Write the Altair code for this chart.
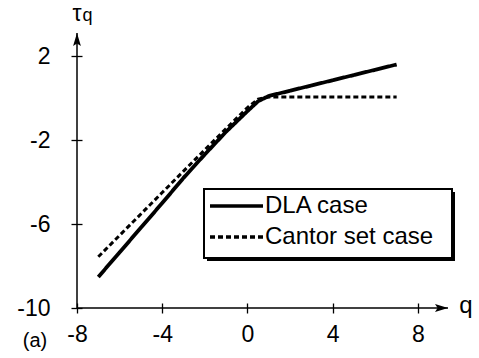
import altair as alt
import pandas as pd

# ---- data ----
q_values = [-7, -6, -5, -4, -3, -2, -1, 0, 0.5, 1, 2, 3, 4, 5, 6, 7]
dla_tau = [-8.52, -7.35, -6.17, -5.0, -3.8, -2.68, -1.6, -0.62, -0.15, 0.1, 0.35, 0.6, 0.85, 1.1, 1.35, 1.6]
cantor_tau = [-7.56, -6.54, -5.52, -4.5, -3.48, -2.46, -1.45, -0.45, -0.05, 0.05, 0.05, 0.05, 0.05, 0.05, 0.05, 0.05]
series_names = ["DLA case", "Cantor set case"]
series_dash = [[1, 0], [5, 3]]
x_ticks = [-8, -4, 0, 4, 8]
y_ticks = [-10, -6, -2, 2]
x_range = [-8, 9.41]
y_range = [-10, 3.1]

FONT = "Liberation Sans"

df = pd.DataFrame({
    "q": q_values + q_values,
    "tau": dla_tau + cantor_tau,
    "series": [series_names[0]] * len(q_values) + [series_names[1]] * len(q_values),
})

xscale = alt.Scale(domain=x_range, nice=False, zero=False)
yscale = alt.Scale(domain=y_range, nice=False, zero=False)

minus_expr = "(datum.value < 0 ? '-' : '') + abs(datum.value)"

x_axis = alt.Axis(values=x_ticks, offset=-5, tickSize=10, tickWidth=1.3, tickColor="black",
                  domain=False, grid=False, labelPadding=10, labelFontSize=23, labelFont=FONT,
                  labelColor="black", labelFlush=False, labelOverlap=False, labelExpr=minus_expr,
                  title=None)
y_axis = alt.Axis(values=y_ticks, offset=-5, tickSize=11, tickWidth=1.3, tickColor="black",
                  domain=False, grid=False, labelPadding=21, labelFontSize=23, labelFont=FONT,
                  labelColor="black", labelFlush=False, labelOverlap=False, labelExpr=minus_expr,
                  title=None)

dash_scale = alt.Scale(domain=series_names, range=series_dash)

lines = alt.Chart(df).mark_line(color="black").encode(
    x=alt.X("q:Q", scale=xscale, axis=x_axis),
    y=alt.Y("tau:Q", scale=yscale, axis=y_axis),
    strokeDash=alt.StrokeDash("series:N", scale=dash_scale, legend=None),
    strokeWidth=alt.StrokeWidth("series:N", scale=alt.Scale(domain=series_names, range=[3.8, 3.0]),
                                legend=None),
)

# axis lines with arrowheads
xline_df = pd.DataFrame({"x": [x_range[0]], "x2": [x_range[1]], "y": [y_range[0]]})
yline_df = pd.DataFrame({"x": [x_range[0]], "y": [y_range[0]], "y2": [y_range[1]]})

x_line = alt.Chart(xline_df).mark_rule(color="black", strokeWidth=1.5).encode(
    x=alt.X("x:Q", scale=xscale, axis=x_axis), x2="x2:Q",
    y=alt.Y("y:Q", scale=yscale, axis=y_axis))
y_line = alt.Chart(yline_df).mark_rule(color="black", strokeWidth=1.5).encode(
    x=alt.X("x:Q", scale=xscale, axis=x_axis),
    y=alt.Y("y:Q", scale=yscale, axis=y_axis), y2="y2:Q")

x_arrow = alt.Chart(pd.DataFrame({"x": [x_range[1]], "y": [y_range[0]]})).mark_point(
    shape="M0,0L-2,-0.6L-1.6,0L-2,0.6Z", size=169, filled=True, color="black", opacity=1
).encode(x=alt.X("x:Q", scale=xscale, axis=x_axis), y=alt.Y("y:Q", scale=yscale, axis=y_axis))
y_arrow = alt.Chart(pd.DataFrame({"x": [x_range[0]], "y": [y_range[1]]})).mark_point(
    shape="M0,0L-0.6,2L0,1.6L0.6,2Z", size=169, filled=True, color="black", opacity=1
).encode(x=alt.X("x:Q", scale=xscale, axis=x_axis), y=alt.Y("y:Q", scale=yscale, axis=y_axis))

# legend (box with drop shadow, samples, labels)
one = pd.DataFrame({"a": [0]})
shadow = alt.Chart(one).mark_rect(color="black").encode(
    x=alt.value(130), x2=alt.value(378), y=alt.value(159), y2=alt.value(228))
box = alt.Chart(one).mark_rect(fill="white", stroke="black", strokeWidth=2).encode(
    x=alt.value(127), x2=alt.value(375), y=alt.value(156), y2=alt.value(225))
leg_rows = [173, 204]
leg_samples = [
    alt.Chart(one).mark_rule(color="black", strokeWidth=3.5, strokeDash=series_dash[i]).encode(
        x=alt.value(133), x2=alt.value(186), y=alt.value(leg_rows[i]))
    for i in range(2)
]
leg_texts = [
    alt.Chart(pd.DataFrame({"t": [series_names[i]]})).mark_text(
        font=FONT, fontSize=24, align="left", baseline="middle", color="black"
    ).encode(text="t:N", x=alt.value(188), y=alt.value(leg_rows[i]))
    for i in range(2)
]

# text labels
tau_lbl = alt.Chart(pd.DataFrame({"t": ["τ"]})).mark_text(
    font=FONT, fontSize=23, align="center", baseline="alphabetic", color="black"
).encode(text="t:N", x=alt.value(0), y=alt.value(-12))
tau_sub = alt.Chart(pd.DataFrame({"t": ["q"]})).mark_text(
    font=FONT, fontSize=18, align="center", baseline="alphabetic", color="black"
).encode(text="t:N", x=alt.value(10.5), y=alt.value(-12))
q_lbl = alt.Chart(pd.DataFrame({"t": ["q"]})).mark_text(
    font=FONT, fontSize=24, align="center", baseline="alphabetic", color="black"
).encode(text="t:N", x=alt.value(389), y=alt.value(280))
a_lbl = alt.Chart(pd.DataFrame({"t": ["(a)"]})).mark_text(
    font=FONT, fontSize=20, align="center", baseline="alphabetic", color="black"
).encode(text="t:N", x=alt.value(-42), y=alt.value(314))

chart = alt.layer(
    x_line, y_line, x_arrow, y_arrow, lines, shadow, box, *leg_samples, *leg_texts,
    tau_lbl, tau_sub, q_lbl, a_lbl
).properties(
    width=371, height=275,
    autosize=alt.AutoSizeParams(type="none"),
    padding={"left": 77, "top": 33, "right": 31, "bottom": 50},
).configure_view(stroke=None)

chart.save("out.html", embed_options={"renderer": "svg", "actions": False})
